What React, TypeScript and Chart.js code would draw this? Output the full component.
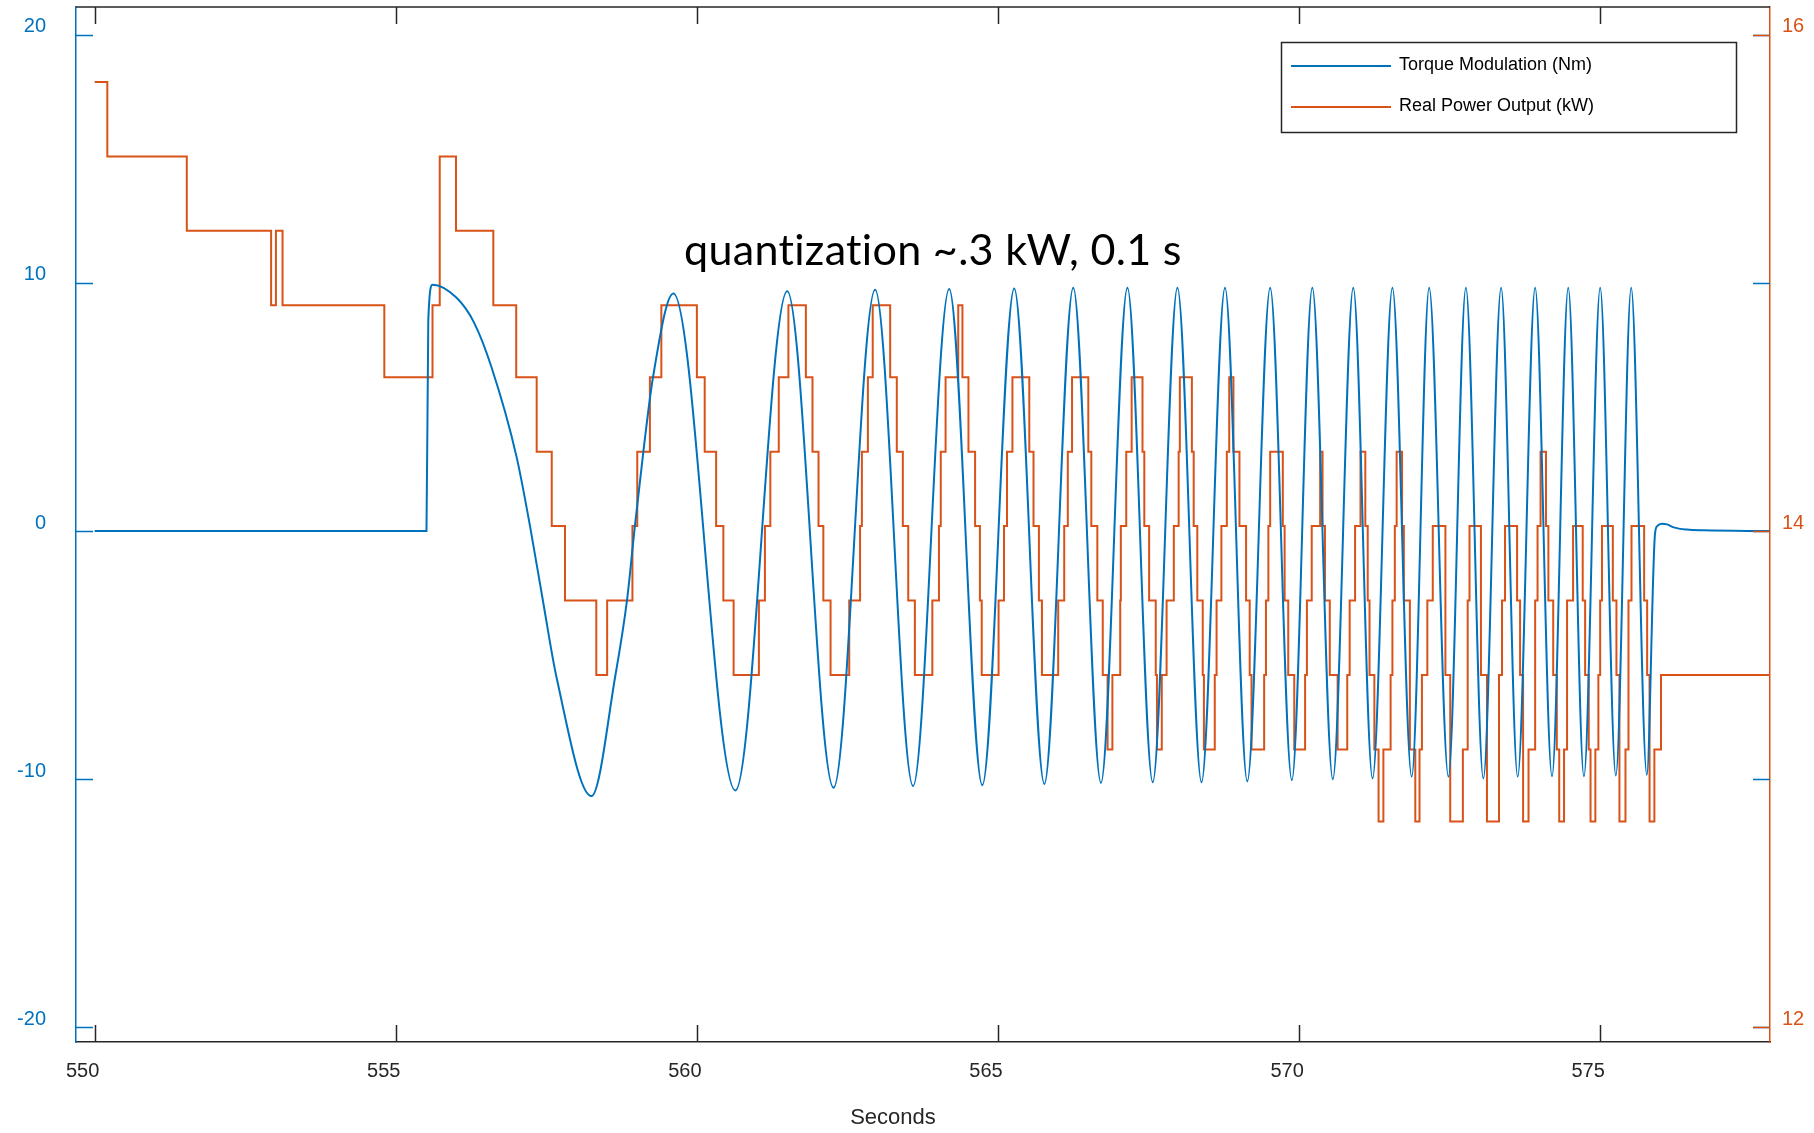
import React, { useEffect, useRef } from "react";
import { Chart, registerables } from "chart.js";

Chart.register(...registerables);

// ---------- data ----------
const xTickValues = [550, 555, 560, 565, 570, 575];
const leftTickValues = [-20, -10, 0, 10, 20];
const rightTickValues = [12, 14, 16];

const seriesLabels = ["Torque Modulation (Nm)", "Real Power Output (kW)"];
const xTitle = "Seconds";
const annotationText = "quantization ~.3 kW, 0.1 s";

// Torque modulation (Nm): [seconds, value] at the traced points / extrema
const torquePoints: [number, number][] = [
  [550.0, 0], [555.51, 0], [555.54, 8.5], [555.61, 9.93], [556.01, 9.4],
  [556.3, 8.4], [556.59, 6.6], [557.005, 3.0], [557.23, 0.19], [557.45, -2.9],
  [557.67, -5.9], [558.25, -10.68], [558.65, -5.77], [558.84, -2.78], [558.97, 0.19],
  [559.11, 3.17], [559.27, 6.18], [559.61, 9.57], [560.64, -10.45], [561.5, 9.66],
  [562.27, -10.34], [562.96, 9.73], [563.59, -10.27], [564.19, 9.76], [564.74, -10.24],
  [565.27, 9.78], [565.77, -10.19], [566.25, 9.81], [566.71, -10.15], [567.15, 9.81],
  [567.57, -10.12], [567.98, 9.81], [568.38, -10.12], [568.77, 9.81], [569.14, -10.09],
  [569.52, 9.81], [569.88, -10.04], [570.22, 9.81], [570.56, -10.0], [570.9, 9.81],
  [571.22, -9.97], [571.55, 9.81], [571.87, -9.9], [572.16, 9.81], [572.48, -9.9],
  [572.77, 9.81], [573.06, -9.97], [573.355, 9.81], [573.63, -9.9], [573.92, 9.81],
  [574.2, -9.88], [574.47, 9.81], [574.73, -9.88], [575.0, 9.81], [575.26, -9.85],
  [575.515, 9.81], [575.775, -9.82], [575.91, -0.12], [575.95, 0.21], [576.02, 0.3],
  [576.11, 0.27], [576.22, 0.15], [576.44, 0.06], [576.72, 0.03], [577.82, 0],
];

// Real power output (kW): [seconds, level that starts there]
const powerSteps: [number, number][] = [
  [550.0, 15.81], [550.21, 15.51], [551.53, 15.21], [552.93, 14.91], [553.01, 15.21],
  [553.12, 14.91], [554.81, 14.62], [555.61, 14.91], [555.73, 15.51], [556.0, 15.21],
  [556.62, 14.91], [557.0, 14.62], [557.34, 14.32], [557.59, 14.02], [557.81, 13.72],
  [558.33, 13.42], [558.51, 13.72], [558.93, 14.02], [559.01, 14.32], [559.22, 14.62],
  [559.41, 14.91], [560.0, 14.62], [560.13, 14.32], [560.32, 14.02], [560.44, 13.72],
  [560.61, 13.42], [561.03, 13.72], [561.13, 14.02], [561.22, 14.32], [561.36, 14.62],
  [561.52, 14.91], [561.81, 14.62], [561.92, 14.32], [562.02, 14.02], [562.1, 13.72],
  [562.22, 13.42], [562.53, 13.72], [562.71, 14.02], [562.74, 14.32], [562.84, 14.62],
  [562.92, 14.91], [563.21, 14.62], [563.32, 14.32], [563.42, 14.02], [563.51, 13.72],
  [563.62, 13.42], [563.91, 13.72], [564.02, 14.02], [564.05, 14.32], [564.13, 14.62],
  [564.34, 14.91], [564.41, 14.62], [564.51, 14.32], [564.62, 14.02], [564.7, 13.72],
  [564.73, 13.42], [565.01, 13.72], [565.1, 14.02], [565.15, 14.32], [565.24, 14.62],
  [565.52, 14.32], [565.59, 14.02], [565.68, 13.72], [565.73, 13.42], [566.0, 13.72],
  [566.1, 14.02], [566.16, 14.32], [566.23, 14.62], [566.5, 14.32], [566.55, 14.02],
  [566.65, 13.72], [566.74, 13.42], [566.82, 13.12], [566.9, 13.42], [567.03, 13.72],
  [567.04, 14.02], [567.13, 14.32], [567.22, 14.62], [567.4, 14.32], [567.43, 14.02],
  [567.51, 13.72], [567.62, 13.42], [567.64, 13.12], [567.72, 13.42], [567.8, 13.72],
  [567.92, 14.02], [568.0, 14.32], [568.02, 14.62], [568.22, 14.32], [568.25, 14.02],
  [568.31, 13.72], [568.4, 13.42], [568.42, 13.12], [568.6, 13.42], [568.63, 13.72],
  [568.71, 14.02], [568.8, 14.32], [568.84, 14.62], [568.91, 14.32], [569.01, 14.02],
  [569.12, 13.72], [569.18, 13.42], [569.21, 13.12], [569.42, 13.42], [569.45, 13.72],
  [569.49, 14.02], [569.52, 14.32], [569.73, 14.02], [569.76, 13.72], [569.82, 13.42],
  [569.92, 13.12], [570.1, 13.42], [570.13, 13.72], [570.21, 14.02], [570.35, 14.32],
  [570.39, 14.02], [570.43, 13.72], [570.51, 13.42], [570.64, 13.12], [570.8, 13.42],
  [570.84, 13.72], [570.93, 14.02], [571.02, 14.32], [571.1, 14.02], [571.14, 13.72],
  [571.17, 13.42], [571.25, 13.12], [571.32, 12.83], [571.4, 13.12], [571.52, 13.42],
  [571.55, 13.72], [571.59, 14.02], [571.62, 14.32], [571.71, 14.02], [571.74, 13.72],
  [571.84, 13.12], [571.93, 12.83], [572.0, 13.12], [572.04, 13.42], [572.13, 13.72],
  [572.22, 14.02], [572.43, 13.42], [572.51, 12.83], [572.72, 13.12], [572.8, 13.72],
  [572.83, 14.02], [573.02, 13.42], [573.12, 12.83], [573.32, 13.42], [573.37, 13.72],
  [573.42, 14.02], [573.62, 13.72], [573.67, 13.42], [573.72, 12.83], [573.81, 13.12],
  [573.92, 13.72], [573.96, 14.02], [574.01, 14.32], [574.1, 14.02], [574.14, 13.72],
  [574.22, 13.42], [574.28, 13.12], [574.32, 12.83], [574.4, 13.12], [574.45, 13.72],
  [574.55, 14.02], [574.71, 13.72], [574.75, 13.42], [574.81, 13.12], [574.84, 12.83],
  [574.92, 13.12], [574.97, 13.42], [575.0, 13.72], [575.03, 14.02], [575.21, 13.72],
  [575.27, 13.42], [575.32, 12.83], [575.42, 13.12], [575.47, 13.72], [575.52, 14.02],
  [575.73, 13.72], [575.78, 13.42], [575.82, 12.83], [575.9, 13.12], [576.01, 13.42],
  [577.82, 13.42],
];

// axis limits
const X_MIN = 549.69;
const X_MAX = 577.82;
const L_MIN = -20.59;
const L_MAX = 21.12;
const R_MIN = 11.941;
const R_MAX = 16.112;

// ---------- styling ----------
const BLUE = "#0072BD";
const ORANGE = "#D95319";
const DARK = "#262626";
const FONT = "'Liberation Sans', Arial, Helvetica, sans-serif";
const W = 1814;
const H = 1133;
const TICK_LEN = 17;

const decorPlugin = {
  id: "matlabDecor",
  afterDatasetsDraw(chart: any) {
    const { ctx, chartArea: a, scales } = chart;
    ctx.save();
    ctx.lineCap = "butt";

    // top box line
    ctx.strokeStyle = DARK;
    ctx.lineWidth = 1.5;
    ctx.beginPath();
    ctx.moveTo(a.left, a.top);
    ctx.lineTo(a.right, a.top);
    ctx.stroke();

    // inward x ticks (bottom and top)
    for (const v of xTickValues) {
      const px = Math.round(scales.x.getPixelForValue(v)) + 0.5;
      ctx.beginPath();
      ctx.moveTo(px, a.bottom);
      ctx.lineTo(px, a.bottom - TICK_LEN);
      ctx.moveTo(px, a.top);
      ctx.lineTo(px, a.top + TICK_LEN);
      ctx.stroke();
    }

    // left-axis ticks (blue) on both sides
    ctx.strokeStyle = BLUE;
    for (const v of leftTickValues) {
      const py = Math.round(scales.yL.getPixelForValue(v)) + 0.5;
      ctx.beginPath();
      ctx.moveTo(a.left, py);
      ctx.lineTo(a.left + TICK_LEN, py);
      ctx.moveTo(a.right, py);
      ctx.lineTo(a.right - TICK_LEN, py);
      ctx.stroke();
    }
    // right-axis ticks (orange)
    ctx.strokeStyle = ORANGE;
    for (const v of rightTickValues) {
      const py = Math.round(scales.yR.getPixelForValue(v)) + 0.5;
      ctx.beginPath();
      ctx.moveTo(a.right, py);
      ctx.lineTo(a.right - TICK_LEN, py);
      ctx.stroke();
    }

    // legend box
    const lx = 1281, ly = 42, lw = 455, lh = 90;
    ctx.fillStyle = "#ffffff";
    ctx.fillRect(lx, ly, lw, lh);
    ctx.strokeStyle = DARK;
    ctx.lineWidth = 1.5;
    ctx.strokeRect(lx + 0.5, ly + 0.5, lw, lh);
    const rows = [66, 107];
    chart.data.datasets.forEach((ds: any, i: number) => {
      const y = rows[i];
      ctx.strokeStyle = ds.borderColor;
      ctx.lineWidth = 2;
      ctx.beginPath();
      ctx.moveTo(1291, y);
      ctx.lineTo(1391, y);
      ctx.stroke();
      ctx.fillStyle = "#000000";
      ctx.font = `18px ${FONT}`;
      ctx.textAlign = "left";
      ctx.textBaseline = "alphabetic";
      ctx.fillText(ds.label, 1399, y + 3.5);
    });

    // annotation text (no ligatures, fitted to the reference width)
    ctx.fillStyle = "#000000";
    ctx.textAlign = "left";
    ctx.textBaseline = "alphabetic";
    try {
      (ctx as any).letterSpacing = "0.3px";
    } catch (e) {
      /* ignore */
    }
    ctx.font = `48px Lato, 'Open Sans', sans-serif`;
    const wRef = ctx.measureText(annotationText).width;
    const size = (48 * 497) / wRef;
    ctx.font = `${size.toFixed(2)}px Lato, 'Open Sans', sans-serif`;
    ctx.fillText(annotationText, 684, 265);
    try {
      (ctx as any).letterSpacing = "0px";
    } catch (e) {
      /* ignore */
    }

    // x-axis title
    ctx.fillStyle = DARK;
    ctx.font = `22px ${FONT}`;
    ctx.textAlign = "center";
    ctx.textBaseline = "middle";
    ctx.fillText(xTitle, 893, 1118);

    ctx.restore();
  },
};

export default function App() {
  const ref = useRef<HTMLCanvasElement | null>(null);

  useEffect(() => {
    if (!ref.current) return;
    const chart = new Chart(ref.current, {
      type: "line",
      data: {
        datasets: [
          {
            label: seriesLabels[0],
            data: torquePoints.map(([x, y]) => ({ x, y })),
            yAxisID: "yL",
            borderColor: BLUE,
            backgroundColor: BLUE,
            borderWidth: 2,
            cubicInterpolationMode: "monotone",
            pointRadius: 0,
            fill: false,
          },
          {
            label: seriesLabels[1],
            data: powerSteps.map(([x, y]) => ({ x, y })),
            yAxisID: "yR",
            borderColor: ORANGE,
            backgroundColor: ORANGE,
            borderWidth: 2,
            stepped: true,
            pointRadius: 0,
            fill: false,
          },
        ],
      },
      options: {
        responsive: false,
        animation: false,
        devicePixelRatio: 1,
        layout: { padding: { top: 7, left: 0, right: 0, bottom: 0 } },
        plugins: {
          legend: { display: false },
          tooltip: { enabled: false },
          title: { display: false },
        },
        elements: { point: { radius: 0 } },
        scales: {
          x: {
            type: "linear",
            position: "bottom",
            min: X_MIN,
            max: X_MAX,
            grid: { display: false, drawTicks: false },
            border: { display: true, color: DARK, width: 1.5 },
            ticks: {
              color: DARK,
              font: { family: FONT, size: 20 },
              padding: 17,
              labelOffset: -12,
              maxRotation: 0,
              autoSkip: false,
              callback: (v: any) => String(v),
            },
            afterBuildTicks: (s: any) => {
              s.ticks = xTickValues.map((v) => ({ value: v }));
            },
            afterFit: (s: any) => {
              s.height = 91;
              s.paddingLeft = 0;
              s.paddingRight = 0;
            },
          },
          yL: {
            type: "linear",
            position: "left",
            min: L_MIN,
            max: L_MAX,
            grid: { display: false, drawTicks: false },
            border: { display: true, color: BLUE, width: 1.5 },
            ticks: {
              color: BLUE,
              font: { family: FONT, size: 20 },
              padding: 30,
              labelOffset: -8,
              autoSkip: false,
              callback: (v: any) => String(v),
            },
            afterBuildTicks: (s: any) => {
              s.ticks = leftTickValues.map((v) => ({ value: v }));
            },
            afterFit: (s: any) => {
              s.width = 76;
              s.paddingTop = 0;
              s.paddingBottom = 0;
            },
          },
          yR: {
            type: "linear",
            position: "right",
            min: R_MIN,
            max: R_MAX,
            grid: { display: false, drawTicks: false },
            border: { display: true, color: ORANGE, width: 1.5 },
            ticks: {
              color: ORANGE,
              font: { family: FONT, size: 20 },
              padding: 12,
              labelOffset: -8,
              autoSkip: false,
              callback: (v: any) => String(v),
            },
            afterBuildTicks: (s: any) => {
              s.ticks = rightTickValues.map((v) => ({ value: v }));
            },
            afterFit: (s: any) => {
              s.width = 44;
              s.paddingTop = 0;
              s.paddingBottom = 0;
            },
          },
        },
      },
      plugins: [decorPlugin],
    } as any);
    return () => chart.destroy();
  }, []);

  return (
    <div
      style={{
        position: "fixed",
        left: 0,
        top: 0,
        width: W,
        height: H,
        background: "#ffffff",
      }}
    >
      <canvas ref={ref} width={W} height={H} style={{ display: "block", width: W, height: H }} />
    </div>
  );
}
